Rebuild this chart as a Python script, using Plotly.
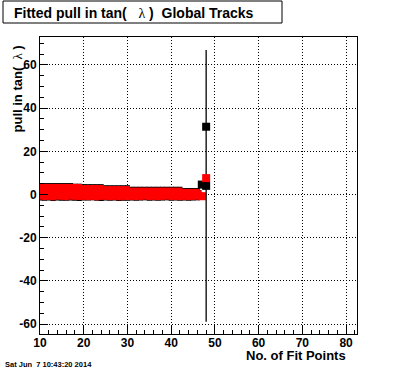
import plotly.graph_objects as go

# ---- data ----
nfit = list(range(10, 48))  # 10..47

black_y = [1.25, 1.2, 1.25, 1.15, 1.25, 1.2, 1.2, 1.25, 1.05, 1.0,
           1.0, 1.0, 1.05, 0.95, 0.9, 0.75, 0.7, 0.75, 0.65, 0.7,
           0.7, 0.4, 0.35, 0.4, 0.45, 0.35, 0.4, 0.35, 0.4, 0.45,
           0.35, 0.4, 0.35, 0.1, 0.05, 0.1, 0.15, 4.6]
black_err = [4.05, 4.1, 4.05, 4.15, 4.05, 4.1, 4.1, 4.05, 3.95, 4.0,
             3.8, 3.8, 3.75, 3.85, 3.9, 3.55, 3.6, 3.55, 3.65, 3.6,
             3.6, 3.2, 3.25, 3.2, 3.15, 3.25, 3.2, 3.25, 3.2, 3.15,
             3.25, 3.2, 3.25, 2.9, 2.95, 2.9, 2.85, 0.6]

red_y = [1.25, 1.15, 1.2, 1.1, 1.25, 1.2, 1.15, 1.25, 1.2, 1.15,
         0.95, 0.9, 0.95, 0.85, 0.95, 0.7, 0.65, 0.7, 0.6, 0.7,
         0.65, 0.35, 0.3, 0.35, 0.4, 0.3, 0.35, 0.3, 0.35, 0.4,
         0.3, 0.35, 0.3, 0.05, 0.0, 0.05, 0.1, -0.8]
red_err = [3.65, 3.75, 3.7, 3.8, 3.65, 3.7, 3.75, 3.65, 3.7, 3.75,
           3.45, 3.5, 3.45, 3.55, 3.45, 3.2, 3.25, 3.2, 3.3, 3.2,
           3.25, 2.85, 2.9, 2.85, 2.8, 2.9, 2.85, 2.9, 2.85, 2.8,
           2.9, 2.85, 2.9, 2.55, 2.6, 2.55, 2.5, 1.7]

last_x = [48, 48]
last_black_y = [4.0, 31.4]
last_black_err = [63.0, 0.0]
last_red_x = [48]
last_red_y = [7.6]
last_red_err = [0.0]

x_ticks = [10, 20, 30, 40, 50, 60, 70, 80]
y_ticks = [-60, -40, -20, 0, 20, 40, 60]

W, H = 396, 372
L, R, T, B = 40, 357, 37, 334
pw, ph = R - L, B - T


def px(xp):
    return (xp - L) / pw


def py(yp):
    return (B - yp) / ph


fig = go.Figure()

fig.add_trace(go.Scatter(
    x=nfit, y=black_y, mode="markers",
    marker=dict(symbol="square", size=8, color="black"),
    error_y=dict(type="data", array=black_err, color="black", thickness=5, width=0),
    showlegend=False, hoverinfo="skip"))

fig.add_trace(go.Scatter(
    x=nfit, y=red_y, mode="markers",
    marker=dict(symbol="square", size=8, color="#ff0000"),
    error_y=dict(type="data", array=red_err, color="#ff0000", thickness=5, width=0),
    showlegend=False, hoverinfo="skip"))

fig.add_trace(go.Scatter(
    x=last_x, y=last_black_y, mode="markers",
    marker=dict(symbol="square", size=8, color="black"),
    error_y=dict(type="data", array=last_black_err, color="black", thickness=1.3, width=0),
    showlegend=False, hoverinfo="skip"))

fig.add_trace(go.Scatter(
    x=last_red_x, y=last_red_y, mode="markers",
    marker=dict(symbol="square", size=8, color="#ff0000"),
    error_y=dict(type="data", array=last_red_err, color="#ff0000", thickness=1, width=0),
    showlegend=False, hoverinfo="skip"))

tickfont = dict(family="Liberation Sans", size=12, color="black", weight="bold")

fig.update_xaxes(
    range=[10, 82.5], tickvals=x_ticks, ticktext=[str(v) for v in x_ticks],
    ticks="inside", ticklen=8, tickcolor="black", tickwidth=1,
    minor=dict(dtick=2, tick0=10, ticks="inside", ticklen=4, tickcolor="black", showgrid=False),
    showline=True, linecolor="black", linewidth=1, mirror=True,
    showgrid=True, gridcolor="black", griddash="1px,2px", gridwidth=1,
    zeroline=False, tickfont=tickfont, ticklabelstandoff=-2,
)
fig.update_yaxes(
    range=[-64.63, 72.97], tickvals=y_ticks, ticktext=[str(v) for v in y_ticks],
    ticks="inside", ticklen=8, tickcolor="black", tickwidth=1,
    minor=dict(dtick=5, tick0=0, ticks="inside", ticklen=4, tickcolor="black", showgrid=False),
    showline=True, linecolor="black", linewidth=1, mirror=True,
    showgrid=True, gridcolor="black", griddash="1px,2px", gridwidth=1,
    zeroline=False, tickfont=tickfont,
)

# title box
fig.add_shape(type="rect", xref="paper", yref="paper",
              x0=px(3), x1=px(282), y0=py(23), y1=py(1),
              line=dict(color="black", width=1), fillcolor="white", layer="above")

lam = "<span style='font-family:Liberation Serif;font-weight:normal'>λ</span>"
fig.add_annotation(
    xref="paper", yref="paper", x=px(12), y=py(12.5), xanchor="left", yanchor="middle",
    text="Fitted pull in tan(\u00a0\u00a0\u00a0" + lam + "\u00a0)\u00a0\u00a0Global Tracks",
    showarrow=False, font=dict(family="Liberation Sans", size=14, color="black", weight="bold"))

fig.add_annotation(
    xref="paper", yref="paper", x=px(17), y=py(43), xanchor="center", yanchor="top",
    textangle=-90, text="pull in tan(\u00a0\u00a0" + lam + "\u00a0)",
    showarrow=False, font=dict(family="Liberation Sans", size=13, color="black", weight="bold"))

fig.add_annotation(
    xref="paper", yref="paper", x=px(348), y=py(356), xanchor="right", yanchor="middle",
    text="No. of Fit Points", showarrow=False,
    font=dict(family="Liberation Sans", size=13, color="black", weight="bold"))

fig.add_annotation(
    xref="paper", yref="paper", x=px(3), y=py(364), xanchor="left", yanchor="middle",
    text="Sat Jun\u00a0\u00a07 10:43:20 2014", showarrow=False,
    font=dict(family="Liberation Sans", size=7.5, color="black", weight="bold"))

fig.update_layout(
    width=W, height=H,
    margin=dict(l=L, r=W - R, t=T, b=H - B, pad=0),
    paper_bgcolor="white", plot_bgcolor="white",
    showlegend=False,
)

fig.write_html(
    "out.html",
    config={"displayModeBar": False},
    post_script="document.body.style.margin='0';document.body.style.padding='0';"
                "document.body.style.overflow='hidden';",
)
